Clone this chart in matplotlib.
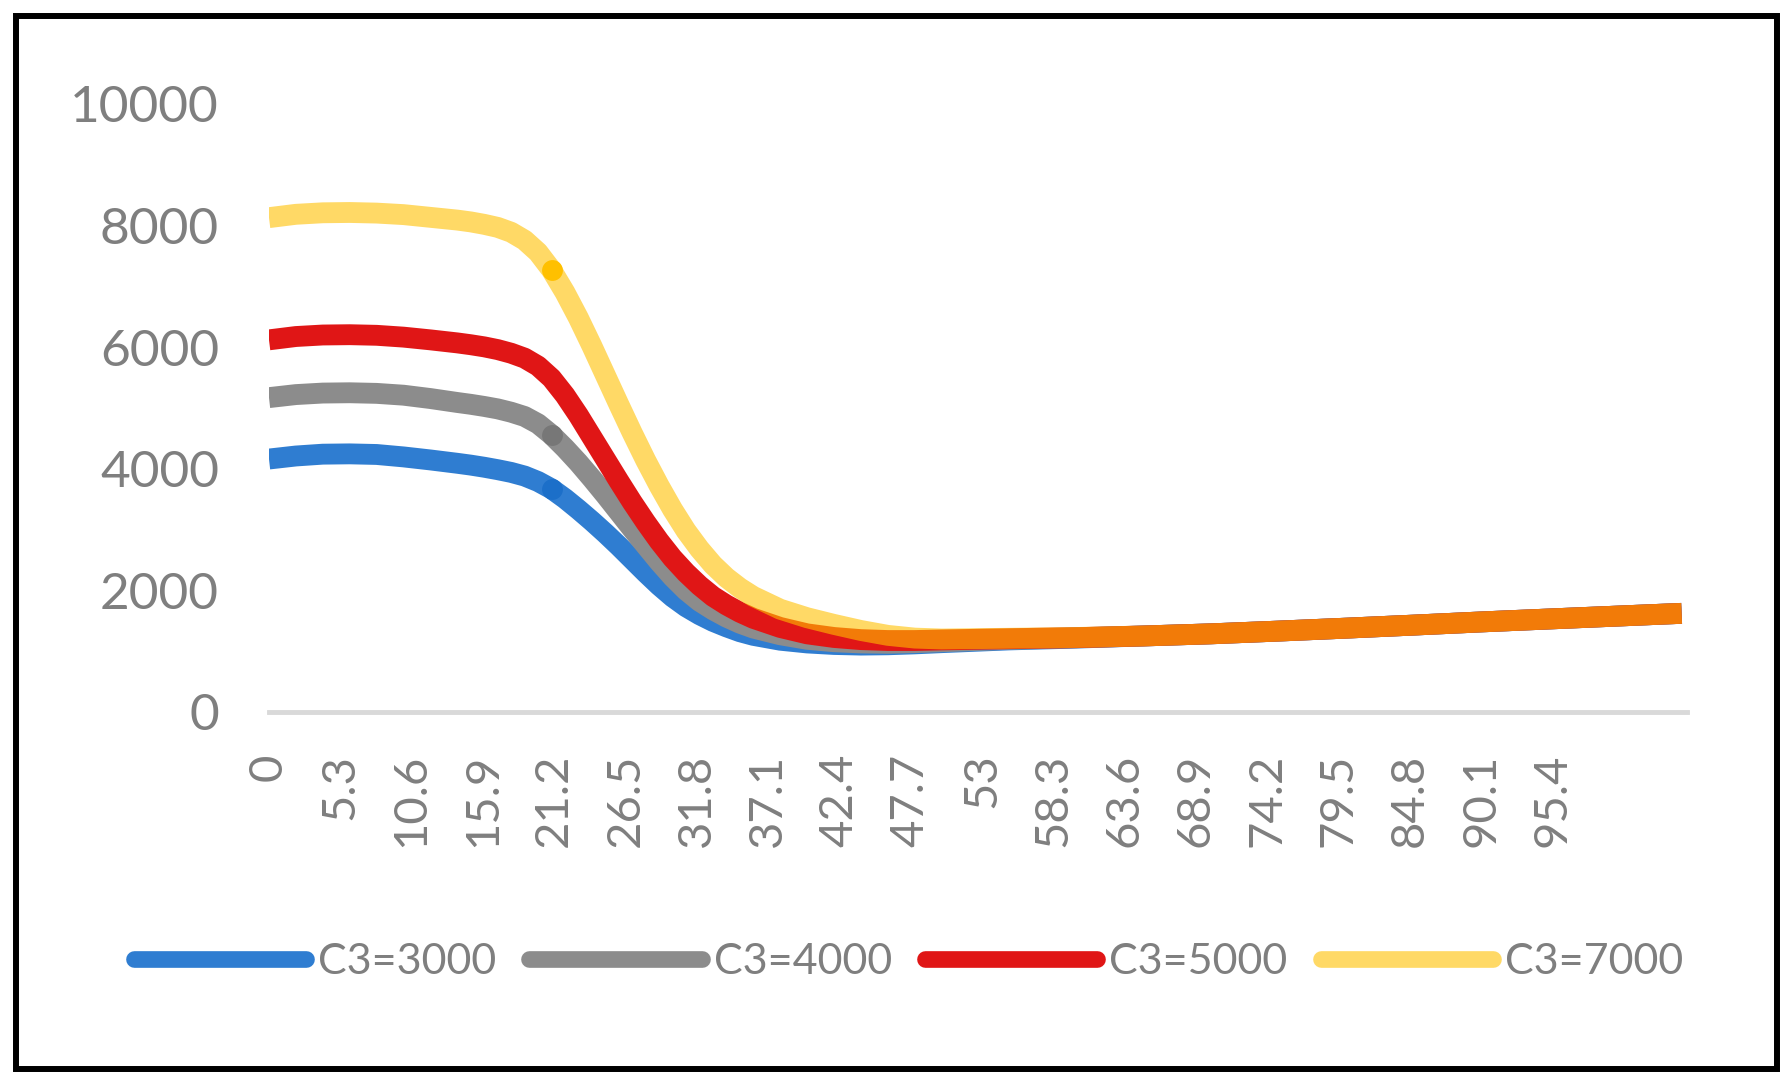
import matplotlib
matplotlib.use('Agg')
import matplotlib.pyplot as plt
from matplotlib.patches import Rectangle

plt.rcParams['font.family'] = ['Lato', 'DejaVu Sans']

# x positions (category axis 0..105)
xs = [0, 2, 4, 6, 8, 10, 12, 14,
      15, 16, 17, 18, 19, 20, 21, 22, 23, 24, 25, 26, 27, 28, 29, 30, 31, 32, 33, 34, 35, 36,
      38, 40, 42, 44, 46, 48, 50,
      55, 60, 65, 70, 75, 80, 85, 90, 95, 100, 105]

c3_3000 = [4160, 4210, 4240, 4245, 4235, 4195, 4145, 4090,
           4060, 4025, 3985, 3940, 3880, 3790, 3670, 3510, 3330, 3140, 2940, 2730, 2510, 2290, 2080, 1890,
           1730, 1600, 1490, 1400, 1320, 1260,
           1180, 1135, 1110, 1100, 1105, 1120, 1140,
           1185, 1215, 1250, 1285, 1330, 1378, 1428, 1480, 1528, 1575, 1622]

c3_4000 = [5170, 5220, 5245, 5250, 5240, 5210, 5155, 5090,
           5060, 5025, 4985, 4930, 4860, 4740, 4560, 4340, 4100, 3840, 3570, 3290, 3010, 2740, 2470, 2220,
           2000, 1820, 1680, 1560, 1460, 1380,
           1270, 1195, 1155, 1135, 1130, 1140, 1155,
           1195, 1220, 1250, 1285, 1330, 1378, 1428, 1480, 1528, 1575, 1622]

c3_5000 = [6120, 6175, 6200, 6205, 6195, 6165, 6120, 6070,
           6040, 6005, 5960, 5900, 5820, 5690, 5490, 5210, 4880, 4520, 4160, 3800, 3450, 3120, 2810, 2530,
           2290, 2080, 1900, 1760, 1640, 1540,
           1390, 1285, 1225, 1190, 1175, 1175, 1185,
           1205, 1222, 1250, 1285, 1330, 1378, 1428, 1480, 1528, 1575, 1622]

c3_7000 = [8130, 8185, 8210, 8215, 8205, 8180, 8135, 8090,
           8060, 8020, 7970, 7890, 7760, 7560, 7270, 6900, 6480, 6020, 5540, 5060, 4590, 4140, 3720, 3330,
           2980, 2680, 2420, 2210, 2040, 1900,
           1690, 1550, 1440, 1340, 1260, 1215, 1200,
           1212, 1225, 1250, 1285, 1330, 1378, 1428, 1480, 1528, 1575, 1622]

labels = ['C3=3000', 'C3=4000', 'C3=5000', 'C3=7000']
xtick_labels = ['0', '5.3', '10.6', '15.9', '21.2', '26.5', '31.8', '37.1', '42.4', '47.7',
                '53', '58.3', '63.6', '68.9', '74.2', '79.5', '84.8', '90.1', '95.4']
yticks = [0, 2000, 4000, 6000, 8000, 10000]

text_gray = '#7f7f7f'

fig = plt.figure(figsize=(17.92, 10.84), dpi=100)
ax = fig.add_axes([0.1501, 0.3432, 0.7913, 0.5609])

series = [c3_3000, c3_4000, c3_5000, c3_7000]
colors = ['#2f7dd1', '#8c8c8c', '#e01616', '#ffc000']
alphas = [1.0, 1.0, 1.0, 0.6]
dot_colors = ['#1c6fc9', '#777777', None, '#ffc000']
dot_idx = xs.index(21)

for ys, lab, col, a, dc in zip(series, labels, colors, alphas, dot_colors):
    ax.plot(xs, ys, color=col, alpha=a, lw=15, label=lab,
            solid_capstyle='butt', solid_joinstyle='round')
    if dc:
        ax.plot(xs, ys, ls='none', marker='o', ms=15, color=dc,
                markevery=[dot_idx], mec='none')

ax.set_xlim(0, 105.4)
ax.set_ylim(0, 10000)

for s in ['top', 'right', 'left']:
    ax.spines[s].set_visible(False)
ax.spines['bottom'].set_color('#d9d9d9')
ax.spines['bottom'].set_linewidth(3.5)

ax.set_yticks(yticks)
ax.set_yticklabels([str(v) for v in yticks], fontsize=37, color=text_gray)
ax.set_xticks([float(t) for t in xtick_labels])
ax.set_xticklabels(xtick_labels, rotation=90, fontsize=34, color=text_gray)
ax.tick_params(axis='y', length=0, pad=36)
ax.tick_params(axis='x', length=0, pad=30)

fig.legend(loc='center', bbox_to_anchor=(0.507, 0.1125), ncol=4, frameon=False,
           fontsize=31, labelcolor=text_gray, handlelength=4.0,
           handletextpad=0.28, columnspacing=0.77)
for h in fig.legends[0].get_lines():
    h.set_solid_capstyle('round')
    h.set_linewidth(12)

fig.add_artist(Rectangle((0.0089, 0.0138), 0.9827, 0.9714, transform=fig.transFigure,
                         fill=False, lw=4.3, ec='black'))

fig.savefig('out.png', dpi=100)
